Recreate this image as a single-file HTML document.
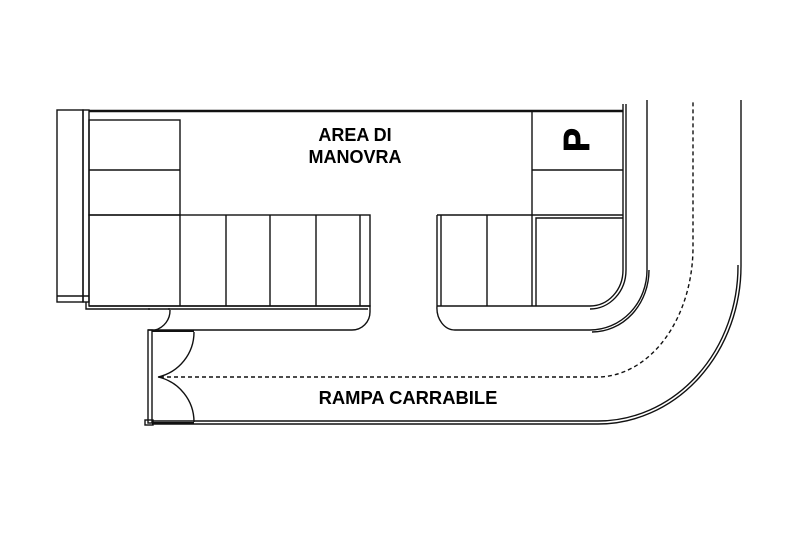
<!DOCTYPE html>
<html><head><style>
html,body{margin:0;padding:0;background:#fff;width:800px;height:533px;overflow:hidden}
text{font-family:"Liberation Sans",sans-serif;font-weight:bold;fill:#000}
</style></head><body>
<svg width="800" height="533" viewBox="0 0 800 533" xmlns="http://www.w3.org/2000/svg">
<g fill="none" stroke="#111" stroke-width="1.4">
<rect x="57" y="110" width="26" height="192"/>
<rect x="83" y="110" width="6" height="192"/>
<line x1="57" y1="296" x2="89" y2="296"/>
<line x1="89" y1="111" x2="623" y2="111" stroke-width="2.4"/>
<rect x="89" y="120" width="91" height="95"/>
<line x1="89" y1="170" x2="180" y2="170"/>
<rect x="89" y="215" width="281" height="91"/>
<line x1="180" y1="215" x2="180" y2="306"/>
<line x1="226" y1="215" x2="226" y2="306"/>
<line x1="270" y1="215" x2="270" y2="306"/>
<line x1="316" y1="215" x2="316" y2="306"/>
<line x1="360" y1="215" x2="360" y2="306"/>
<path d="M86 302 V309 H150"/>
<path d="M89 306 H370 V312 A18 18 0 0 1 352 330 H148"/>
<path d="M168 309 H368"/>
<path d="M148 309 H170"/>
<path d="M170 310 A20 20 0 0 1 155 330"/>
<rect x="148" y="330" width="4" height="93"/>
<rect x="145" y="420" width="8" height="5"/>
<path d="M152 331 H194" stroke-width="2"/>
<path d="M152 423 H194" stroke-width="2"/>
<path d="M194 332 A46 46 0 0 1 158 377"/>
<path d="M194 422 A46 46 0 0 0 158 377"/>
<path d="M152 424 H598 A143 158 0 0 0 741 266 V100" />
<path d="M153 421 H598 A140 155 0 0 0 738 266 V265"/>
<path d="M160 377 H597 A96 130 0 0 0 693 247 V100" stroke-dasharray="4 3"/>
<line x1="532" y1="111" x2="532" y2="215"/>
<line x1="532" y1="170" x2="623" y2="170"/>
<line x1="437" y1="215" x2="623" y2="215"/>
<line x1="437" y1="215" x2="437" y2="306"/>
<line x1="441" y1="215" x2="441" y2="306"/>
<line x1="487" y1="215" x2="487" y2="306"/>
<path d="M536 306 V218 H623"/>
<path d="M532 215 V306"/>
<path d="M437 306 H590 A33 36 0 0 0 623 270 V104"/>
<path d="M590 309 A36 39 0 0 0 626 270 V104"/>
<path d="M437 306 A18 22 0 0 0 455 330 H590 A57 60 0 0 0 647 270 V100"/>
<path d="M592 332 A57 62 0 0 0 649 270"/>
</g>
<text x="355" y="141" font-size="18" text-anchor="middle">AREA DI</text>
<text x="355" y="163" font-size="18" text-anchor="middle">MANOVRA</text>
<text x="408" y="404" font-size="18.4" text-anchor="middle">RAMPA CARRABILE</text>
<text x="0" y="0" font-size="36" text-anchor="middle" transform="translate(589,140) rotate(-90)" stroke="#000" stroke-width="0.8">P</text>
</svg>
</body></html>
